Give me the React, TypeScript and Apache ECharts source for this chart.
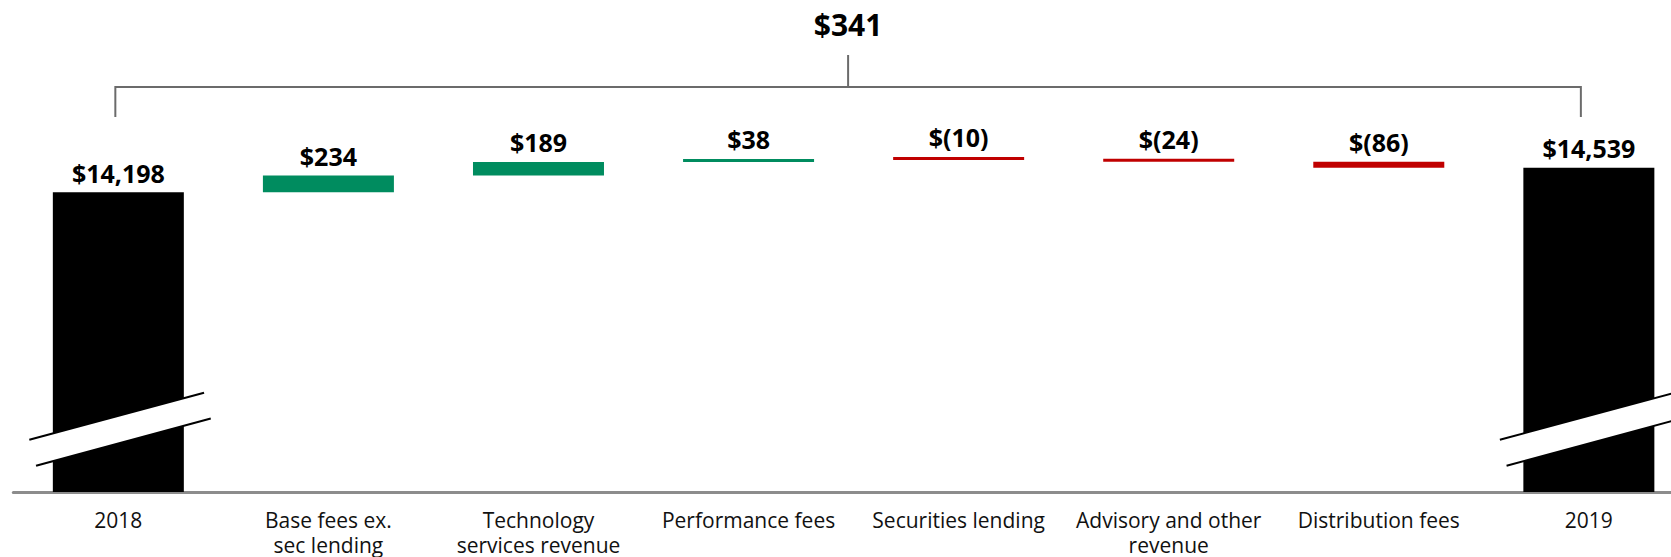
import React, { useEffect, useRef } from "react";
import * as echarts from "echarts";

const categories = [
  "2018",
  "Base fees ex.\nsec lending",
  "Technology\nservices revenue",
  "Performance fees",
  "Securities lending",
  "Advisory and other\nrevenue",
  "Distribution fees",
  "2019",
];
const startTotal = 14198;
const endTotal = 14539;
const deltas = [234, 189, 38, -10, -24, -86];
const totalChange = 341;
const yMin = 10000;
const yMax = 16000;

const GREEN = "#008C5F";
const RED = "#C00000";
const BLACK = "#000000";
const FONT = "'Open Sans', 'Noto Sans', sans-serif";

const CHART_W = 1700;

function fmt(v: number): string {
  const s = Math.abs(v).toLocaleString("en-US");
  return v < 0 ? `$(${s})` : `$${s}`;
}

export default function App() {
  const ref = useRef<HTMLDivElement>(null);
  useEffect(() => {
    if (!ref.current) return;
    const chart = echarts.init(ref.current, null, { renderer: "svg" });

    const base: number[] = [];
    const vis: any[] = [];
    const signed: number[] = [];
    base.push(0);
    vis.push({ value: startTotal, itemStyle: { color: BLACK } });
    signed.push(startTotal);
    let cum = startTotal;
    deltas.forEach((d) => {
      const next = cum + d;
      base.push(Math.min(cum, next));
      vis.push({ value: Math.abs(d), itemStyle: { color: d >= 0 ? GREEN : RED } });
      signed.push(d);
      cum = next;
    });
    base.push(0);
    vis.push({ value: endTotal, itemStyle: { color: BLACK } });
    signed.push(endTotal);

    chart.setOption({
      animation: false,
      grid: { left: 13.3, width: 1680.6, top: 63.5, bottom: 64.5, containLabel: false },
      xAxis: {
        type: "category",
        data: categories,
        axisLine: { show: true, lineStyle: { color: "#8c8c8c", width: 3 } },
        axisTick: { show: false },
        axisLabel: {
          interval: 0,
          color: "#111",
          fontFamily: FONT,
          fontSize: 21,
          lineHeight: 25,
          margin: 15,
        },
      },
      yAxis: {
        type: "value",
        min: yMin,
        max: yMax,
        show: false,
        splitLine: { show: false },
      },
      series: [
        {
          type: "bar",
          stack: "w",
          data: base,
          barWidth: 131,
          itemStyle: { color: "transparent" },
          silent: true,
          clip: true,
        },
        {
          type: "bar",
          stack: "w",
          data: vis,
          barWidth: 131,
          barMinHeight: 3,
          clip: true,
          label: {
            show: true,
            position: "top",
            distance: 7,
            color: "#000",
            fontFamily: FONT,
            fontWeight: "bold",
            fontSize: 25,
            formatter: (p: any) => fmt(signed[p.dataIndex]),
          },
        },
      ],
    });

    const c0 = chart.convertToPixel({ xAxisIndex: 0 }, 0) as number;
    const c7 = chart.convertToPixel({ xAxisIndex: 0 }, categories.length - 1) as number;
    const ax = chart.convertToPixel({ yAxisIndex: 0 }, yMin) as number;
    const bl = c0 - 3;
    const br = c7 - 8;
    const mid = (bl + br) / 2;
    const bracketY = 87;
    const bracketStyle = { stroke: "#6b6b6b", lineWidth: 2 };

    const breakMark = (c: number) => {
      const ul: [number, number] = [c - 89, ax - 52.2];
      const ur: [number, number] = [c + 85.7, ax - 99.2];
      const ll: [number, number] = [c - 82.3, ax - 26.2];
      const lr: [number, number] = [c + 92.4, ax - 73.5];
      return [
        { type: "polygon", shape: { points: [ul, ur, lr, ll] }, style: { fill: "#fff" }, z: 100 },
        { type: "line", shape: { x1: ul[0], y1: ul[1], x2: ur[0], y2: ur[1] }, style: { stroke: "#000", lineWidth: 2 }, z: 101 },
        { type: "line", shape: { x1: ll[0], y1: ll[1], x2: lr[0], y2: lr[1] }, style: { stroke: "#000", lineWidth: 2 }, z: 101 },
      ];
    };

    chart.setOption({
      graphic: [
        { type: "line", shape: { x1: bl, y1: bracketY, x2: br, y2: bracketY }, style: bracketStyle },
        { type: "line", shape: { x1: bl, y1: bracketY - 1, x2: bl, y2: 117 }, style: bracketStyle },
        { type: "line", shape: { x1: br, y1: bracketY - 1, x2: br, y2: 117 }, style: bracketStyle },
        { type: "line", shape: { x1: mid, y1: 55, x2: mid, y2: bracketY }, style: bracketStyle },
        {
          type: "text",
          x: mid,
          y: 24,
          style: {
            text: fmt(totalChange),
            fill: "#000",
            font: `bold 30px ${FONT}`,
            textAlign: "center",
            textVerticalAlign: "middle",
          },
        },
        ...breakMark(c0),
        ...breakMark(c7),
      ],
    });

    return () => chart.dispose();
  }, []);
  return (
    <div
      style={{ position: "fixed", left: 0, top: 0, width: 1671, height: 557, overflow: "hidden", background: "#fff" }}
    >
      <div ref={ref} style={{ width: CHART_W, height: 557 }} />
    </div>
  );
}
